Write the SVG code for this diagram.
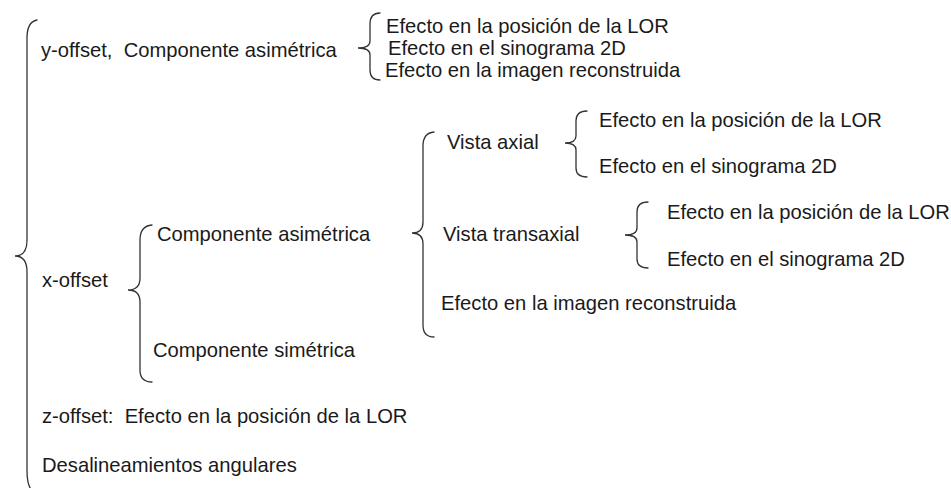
<svg xmlns="http://www.w3.org/2000/svg" width="951" height="488" viewBox="0 0 951 488">
<style>
text{font-family:"Liberation Sans",Arial,sans-serif;font-size:20.2px;fill:#1a1a1a;white-space:pre}
.br{fill:none;stroke:#333;stroke-width:1.3;stroke-linecap:round}
</style>
<rect width="951" height="488" fill="#fff"/>
<g id="connectors">
<path class="br" d="M37 20 Q27 22 27 38 L27 240 Q27 256 15 256 Q27 256 27 272 L27 470 Q27 490 35 492"/>
<path class="br" d="M380 13 Q370 13 370 24 L370 41 Q370 48 358 48 Q370 48 370 55 L370 70 Q370 80 380 80"/>
<path class="br" d="M152 225 Q140 226 140 240 L140 278 Q140 290 128 290 Q140 290 140 302 L140 370 Q140 382 152 382"/>
<path class="br" d="M434 132 Q423 133 423 146 L423 222 Q423 233 412 233 Q423 233 423 244 L423 325 Q423 337 434 337"/>
<path class="br" d="M587 111 Q576 111 576 121 L576 136 Q576 143 565 143 Q576 143 576 150 L576 168 Q576 177 587 177"/>
<path class="br" d="M648 202 Q637 202 637 212 L637 228 Q637 235 625 235 Q637 235 637 242 L637 259 Q637 268 648 268"/>
</g>
<g id="n-y"><text x="41" y="57">y-offset,  Componente asimétrica</text></g>
<g id="n-y1"><text x="386" y="33">Efecto en la posición de la LOR</text></g>
<g id="n-y2"><text x="388" y="55">Efecto en el sinograma 2D</text></g>
<g id="n-y3"><text x="385" y="77">Efecto en la imagen reconstruida</text></g>
<g id="n-x"><text x="42" y="287">x-offset</text></g>
<g id="n-xa"><text x="157" y="241">Componente asimétrica</text></g>
<g id="n-xs"><text x="153" y="357">Componente simétrica</text></g>
<g id="n-va"><text x="447" y="149">Vista axial</text></g>
<g id="n-va1"><text x="599" y="127">Efecto en la posición de la LOR</text></g>
<g id="n-va2"><text x="599" y="173">Efecto en el sinograma 2D</text></g>
<g id="n-vt"><text x="443" y="241">Vista transaxial</text></g>
<g id="n-vt1"><text x="667" y="219">Efecto en la posición de la LOR</text></g>
<g id="n-vt2"><text x="667" y="266">Efecto en el sinograma 2D</text></g>
<g id="n-ir"><text x="441" y="310">Efecto en la imagen reconstruida</text></g>
<g id="n-z"><text x="42" y="423">z-offset:  Efecto en la posición de la LOR</text></g>
<g id="n-d"><text x="42" y="472">Desalineamientos angulares</text></g>
</svg>
